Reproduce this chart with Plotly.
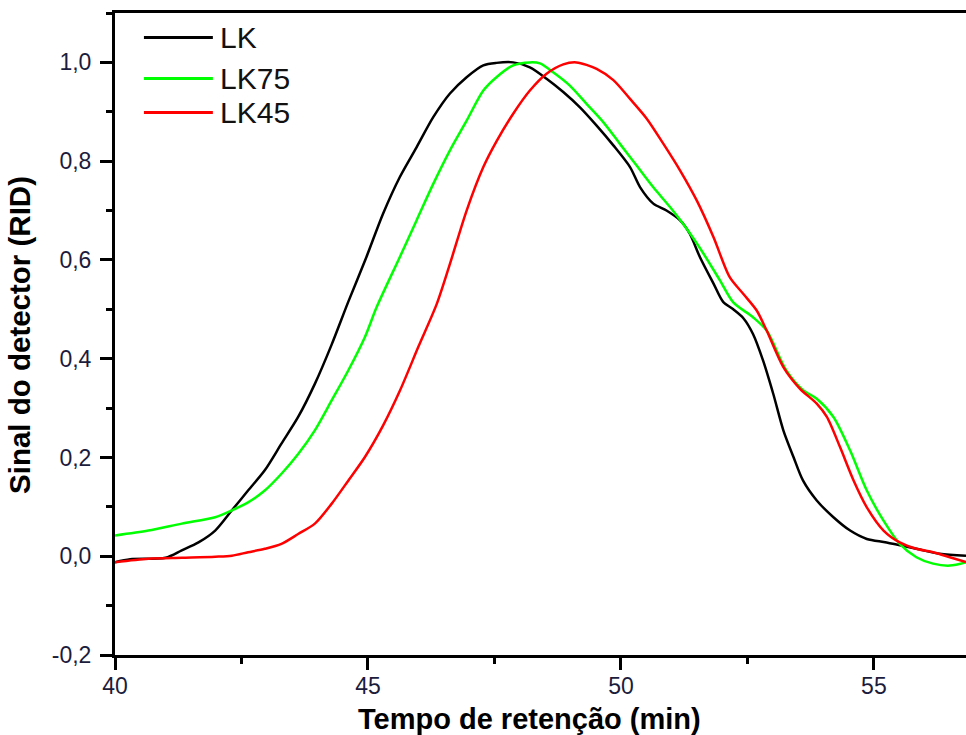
import plotly.graph_objects as go

# Retention time (min) and normalised RID signal for each sample
lk_t = [40.0, 40.3, 41.0, 41.32, 41.65, 41.98, 42.31, 42.63, 42.96, 43.29, 43.62, 43.95,
        44.28, 44.61, 44.97, 45.30, 45.63, 45.96, 46.29, 46.62, 46.95, 47.28, 47.54,
        47.87, 48.20, 48.53, 48.86, 49.19, 49.52, 49.85, 50.18, 50.38, 50.64, 50.90,
        51.17, 51.36, 51.56, 51.83, 52.02, 52.22, 52.42, 52.61, 52.81, 53.01, 53.21,
        53.41, 53.60, 53.87, 54.20, 54.53, 54.86, 55.25, 55.84, 56.30, 56.82]
lk_y = [-0.012, -0.006, -0.003, 0.012, 0.028, 0.052, 0.093, 0.133, 0.174, 0.228, 0.282, 0.349,
        0.428, 0.515, 0.606, 0.694, 0.768, 0.828, 0.889, 0.937, 0.970, 0.994, 0.999,
        1.000, 0.990, 0.967, 0.940, 0.909, 0.872, 0.832, 0.788, 0.747, 0.714, 0.700,
        0.680, 0.653, 0.606, 0.552, 0.515, 0.500, 0.482, 0.450, 0.396, 0.329, 0.255,
        0.201, 0.153, 0.113, 0.079, 0.052, 0.035, 0.028, 0.015, 0.005, 0.001]

lk75_t = [40.0, 40.66, 41.32, 41.98, 42.31, 42.63, 42.96, 43.29, 43.62, 43.95, 44.28,
          44.61, 44.94, 45.17, 45.63, 45.96, 46.29, 46.62, 46.95, 47.28, 47.54, 47.87,
          48.20, 48.40, 48.66, 48.99, 49.32, 49.65, 49.98, 50.31, 50.64, 50.97, 51.30,
          51.63, 51.96, 52.22, 52.61, 52.88, 53.27, 53.60, 53.87, 54.20, 54.53, 54.86,
          55.19, 55.51, 55.84, 56.17, 56.50, 56.82]
lk75_y = [0.042, 0.052, 0.066, 0.079, 0.093, 0.109, 0.133, 0.167, 0.207, 0.255, 0.315,
          0.376, 0.444, 0.504, 0.606, 0.680, 0.754, 0.822, 0.882, 0.943, 0.970, 0.994,
          1.000, 0.998, 0.980, 0.953, 0.916, 0.879, 0.835, 0.791, 0.747, 0.707, 0.663,
          0.613, 0.558, 0.514, 0.484, 0.457, 0.376, 0.336, 0.319, 0.282, 0.214, 0.133,
          0.072, 0.025, -0.002, -0.015, -0.019, -0.012]

lk45_t = [40.0, 40.66, 41.32, 41.98, 42.31, 42.63, 42.96, 43.29, 43.62, 43.95, 44.28,
          44.61, 44.94, 45.30, 45.63, 46.00, 46.36, 46.62, 46.95, 47.28, 47.54, 47.87,
          48.20, 48.53, 48.86, 49.12, 49.52, 49.85, 50.18, 50.51, 50.84, 51.17, 51.50,
          51.83, 52.15, 52.42, 52.68, 52.88, 53.21, 53.54, 53.87, 54.07, 54.33, 54.60,
          54.86, 55.19, 55.51, 55.84, 56.17, 56.50, 56.82]
lk45_y = [-0.012, -0.005, -0.003, -0.001, 0.001, 0.008, 0.015, 0.025, 0.045, 0.066, 0.106,
          0.153, 0.201, 0.265, 0.335, 0.425, 0.511, 0.592, 0.700, 0.788, 0.840, 0.896,
          0.943, 0.977, 0.996, 1.000, 0.987, 0.964, 0.926, 0.886, 0.835, 0.781, 0.720,
          0.646, 0.565, 0.531, 0.498, 0.457, 0.383, 0.339, 0.309, 0.282, 0.221, 0.153,
          0.099, 0.052, 0.028, 0.015, 0.008, -0.002, -0.012]

series_names = ["LK", "LK75", "LK45"]
series_colors = ["#000000", "#00ff00", "#ff0000"]
series_t = [lk_t, lk75_t, lk45_t]
series_y = [lk_y, lk75_y, lk45_y]

x_tick_vals = [40, 45, 50, 55]
y_tick_vals = [-0.2, 0.0, 0.2, 0.4, 0.6, 0.8, 1.0]
y_tick_text = ["-0,2", "0,0", "0,2", "0,4", "0,6", "0,8", "1,0"]

FONT = "Liberation Sans, Arial, sans-serif"

fig = go.Figure()
for name, color, t, y in zip(series_names, series_colors, series_t, series_y):
    fig.add_trace(go.Scatter(x=t, y=y, mode="lines", name=name,
                             line=dict(color=color, width=2.5, shape="spline", smoothing=0.8),
                             showlegend=False))

# Legend drawn as line samples plus labels in the upper-left corner
legend_y = [0.962, 0.898, 0.845]
for name, color, ly in zip(series_names, series_colors, legend_y):
    fig.add_shape(type="line", xref="paper", yref="paper",
                  x0=0.034, x1=0.115, y0=ly, y1=ly,
                  line=dict(color=color, width=3))
    fig.add_annotation(xref="paper", yref="paper", x=0.121, y=ly, text=name,
                       showarrow=False, xanchor="left", yanchor="middle",
                       font=dict(family=FONT, size=30, color="#111111"))

# Axis titles
fig.add_annotation(xref="paper", yref="paper", x=0.4865, y=-0.1,
                   text="<b>Tempo de retenção (min)</b>", showarrow=False,
                   xanchor="center", yanchor="middle",
                   font=dict(family=FONT, size=29, color="#000000"))
fig.add_annotation(xref="paper", yref="paper", x=-0.112, y=0.498,
                   text="<b>Sinal do detector (RID)</b>", showarrow=False, textangle=-90,
                   xanchor="center", yanchor="middle",
                   font=dict(family=FONT, size=29.5, color="#000000"))

fig.update_layout(
    width=966, height=735,
    margin=dict(l=115, r=0, t=13, b=80),
    paper_bgcolor="white", plot_bgcolor="white",
    font=dict(family=FONT, size=23, color="#1c1c3c"),
)
fig.update_xaxes(
    range=[40, 56.82], showgrid=False, zeroline=False,
    showline=True, linecolor="black", linewidth=3, mirror=True,
    ticks="outside", ticklen=12, tickwidth=3, tickcolor="black",
    tickvals=x_tick_vals, ticktext=[str(v) for v in x_tick_vals],
    minor=dict(dtick=2.5, tick0=40, ticks="outside", ticklen=6, tickwidth=3, tickcolor="black"),
    ticklabelstandoff=-4,
)
fig.update_yaxes(
    range=[-0.2, 1.1], showgrid=False, zeroline=False,
    showline=True, linecolor="black", linewidth=3, mirror=False,
    ticks="outside", ticklen=12, tickwidth=3, tickcolor="black",
    tickvals=y_tick_vals, ticktext=y_tick_text,
    minor=dict(dtick=0.1, tick0=0, ticks="outside", ticklen=6, tickwidth=3, tickcolor="black"),
    ticklabelstandoff=4,
)

fig.write_html("out.html")
